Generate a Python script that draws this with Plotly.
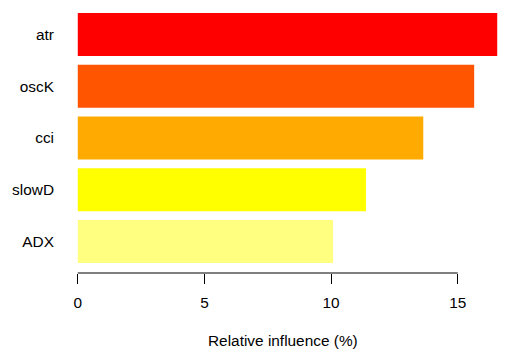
import plotly.graph_objects as go

variables = ["ADX", "slowD", "cci", "oscK", "atr"]
influence = [10.08, 11.38, 13.64, 15.65, 16.56]
colors = ["#FFFF80", "#FFFF00", "#FFAA00", "#FF5500", "#FF0000"]
x_ticks = [0, 5, 10, 15]
x_title = "Relative influence (%)"

FS = 15.4

fig = go.Figure(go.Bar(
    x=influence, y=variables, orientation="h",
    marker=dict(color=colors, line=dict(width=0)),
    width=0.833,
))

xmax = max(influence)
pad = 0.04 * xmax
fig.add_shape(type="line", xref="x", yref="paper",
              x0=min(x_ticks), x1=max(x_ticks), y0=0, y1=0,
              line=dict(color="black", width=1))

fig.add_annotation(text=x_title, xref="paper", yref="paper",
                   x=0.489, y=0, xanchor="center", yanchor="middle",
                   yshift=-67, showarrow=False, font=dict(size=FS))

fig.update_layout(
    width=515, height=360,
    margin=dict(l=61, r=1, t=3, b=87),
    plot_bgcolor="white", paper_bgcolor="white",
    showlegend=False,
    font=dict(family="Liberation Sans, Arial, sans-serif", size=FS, color="black"),
    xaxis=dict(
        range=[-pad, xmax + pad],
        tickvals=x_ticks, ticktext=[str(t) for t in x_ticks],
        ticks="outside", ticklen=10, tickcolor="black", tickwidth=1,
        showline=False, showgrid=False, zeroline=False,
        ticklabelstandoff=6, automargin=False,
    ),
    yaxis=dict(
        categoryorder="array", categoryarray=variables,
        range=[-0.61, len(variables) - 1 + 0.61],
        showline=False, showgrid=False, zeroline=False, ticks="",
        ticklabelstandoff=6, automargin=False,
    ),
)

fig.write_html("out.html",
               config={"displayModeBar": False},
               post_script="document.body.style.margin='0';document.body.style.overflow='hidden';")
